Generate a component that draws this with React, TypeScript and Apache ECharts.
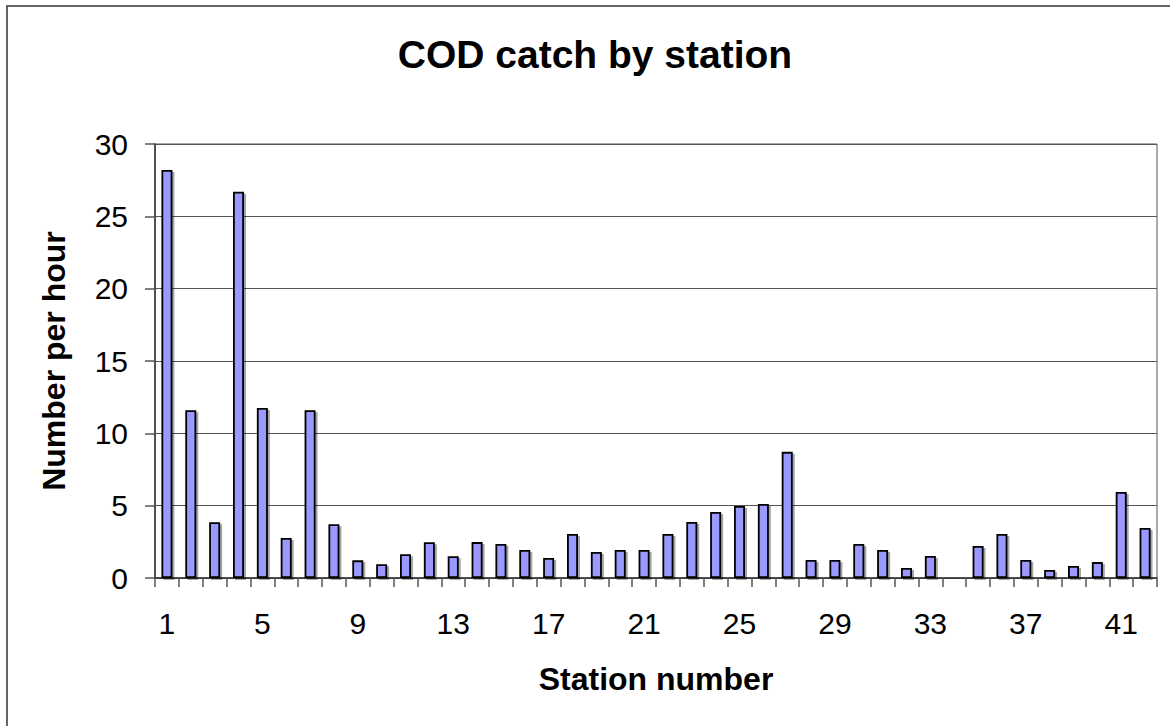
import React, { useEffect, useRef } from "react";
import * as echarts from "echarts";

const stations: string[] = Array.from({ length: 42 }, (_, i) => String(i + 1));
const catchPerHour: (number | null)[] = [
  28.2, 11.6, 3.85, 26.7, 11.75, 2.77, 11.6, 3.72, 1.22, 0.95,
  1.64, 2.47, 1.5, 2.48, 2.35, 1.94, 1.38, 3.04, 1.8, 1.94,
  1.94, 3.04, 3.87, 4.57, 4.98, 5.12, 8.72, 1.25, 1.25, 2.35,
  1.94, 0.69, 1.52, null, 2.21, 3.04, 1.25, 0.55, 0.83, 1.1,
  5.95, 3.46,
];
const titleText = "COD catch by station";
const xName = "Station number";
const yName = "Number per hour";

const FONT = "Arial, 'Liberation Sans', sans-serif";

export default function App() {
  const ref = useRef<HTMLDivElement>(null);
  useEffect(() => {
    document.body.style.margin = "0";
    const chart = echarts.init(ref.current!, null, { renderer: "svg" });
    chart.setOption({
      animation: false,
      backgroundColor: "#ffffff",
      graphic: [
        {
          type: "rect",
          shape: { x: 7, y: 6, width: 1300, height: 900 },
          style: { fill: "none", stroke: "#333333", lineWidth: 1.5 },
          silent: true,
        },
        {
          type: "text",
          x: 595,
          y: 54,
          style: {
            text: titleText,
            font: `bold 39px ${FONT}`,
            fill: "#000000",
            textAlign: "center",
            textVerticalAlign: "middle",
          },
        },
      ],
      grid: {
        left: 155,
        top: 144,
        right: 1170 - 1157,
        bottom: 726 - 578,
        show: true,
        borderColor: "#555555",
        borderWidth: 1,
        containLabel: false,
      },
      xAxis: {
        type: "category",
        data: stations,
        boundaryGap: true,
        name: xName,
        nameLocation: "middle",
        nameGap: 85,
        nameTextStyle: { fontFamily: FONT, fontSize: 32, fontWeight: "bold", color: "#000", verticalAlign: "top" },
        axisLine: { show: true, lineStyle: { color: "#333333", width: 1.5 } },
        axisTick: { show: true, interval: 0, alignWithLabel: false, length: 9, lineStyle: { color: "#555555", width: 1.5 } },
        axisLabel: { interval: 3, margin: 30, fontFamily: FONT, fontSize: 30, color: "#000" },
        splitLine: { show: false },
      },
      yAxis: {
        type: "value",
        min: 0,
        max: 30,
        interval: 5,
        name: yName,
        nameLocation: "middle",
        nameGap: 85,
        nameRotate: 90,
        nameTextStyle: { fontFamily: FONT, fontSize: 32, fontWeight: "bold", color: "#000" },
        axisLine: { show: true, lineStyle: { color: "#333333", width: 1.5 } },
        axisTick: { show: true, length: 10, lineStyle: { color: "#555555", width: 1.5 } },
        axisLabel: { margin: 27, fontFamily: FONT, fontSize: 30, color: "#000" },
        splitLine: { show: true, lineStyle: { color: "#555555", width: 1 } },
      },
      series: [
        {
          type: "bar",
          data: catchPerHour,
          barWidth: 11,
          itemStyle: {
            color: "#9999FF",
            borderColor: "#000000",
            borderWidth: 1.8,
            shadowColor: "rgba(0,0,0,0.35)",
            shadowOffsetX: 2,
            shadowOffsetY: 2,
            shadowBlur: 0,
          },
        },
      ],
    });
    return () => chart.dispose();
  }, []);
  return <div ref={ref} style={{ position: "fixed", left: 0, top: 0, width: 1170, height: 726 }} />;
}
